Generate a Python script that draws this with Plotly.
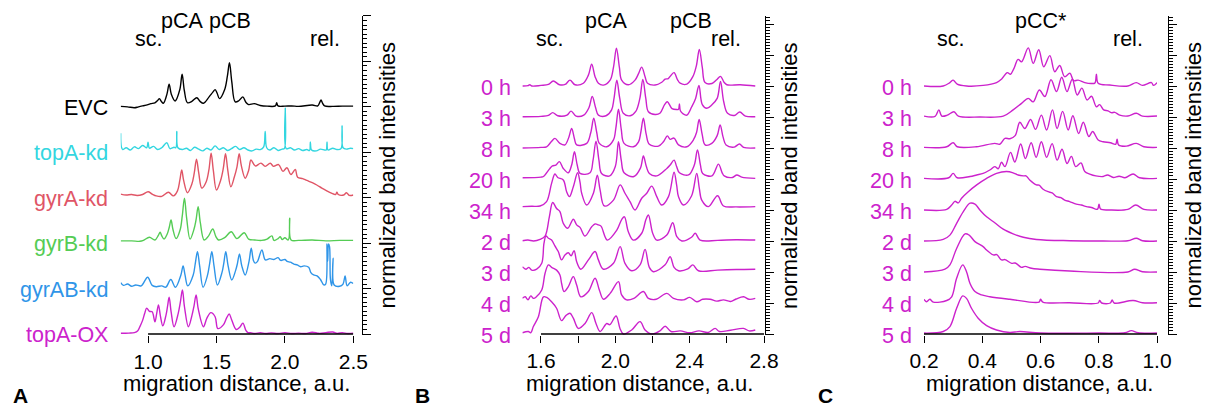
import plotly.graph_objects as go

W, H = 1213, 408

# ---------------- Panel A data (bottom to top) ----------------
A_LABELS = ["topA-OX", "gyrAB-kd", "gyrB-kd", "gyrA-kd", "topA-kd", "EVC"]
A_COLORS = ["#CC22CC", "#2F95E8", "#55CC55", "#E05566", "#33D6E0", "#000000"]
A_XTICKS = [1.0, 1.5, 2.0, 2.5]
A_XTICKTEXT = ["1.0", "1.5", "2.0", "2.5"]

A_EVC = [(0.80, 0.01), (0.85, 0.0), (0.90, -0.02), (0.93, 0.0), (0.96, 0.02), (1.00, 0.05),
         (1.02, 0.07), (1.05, 0.09), (1.07, 0.14), (1.083, 0.18), (1.097, 0.12), (1.112, 0.08),
         (1.138, 0.28), (1.154, 0.50), (1.17, 0.28), (1.198, 0.13), (1.232, 0.38), (1.249, 0.72),
         (1.265, 0.36), (1.288, 0.09), (1.32, 0.12), (1.356, 0.20), (1.38, 0.12), (1.405, 0.08),
         (1.446, 0.22), (1.475, 0.33), (1.49, 0.38), (1.505, 0.3), (1.522, 0.18), (1.56, 0.38),
         (1.58, 0.68), (1.595, 0.97), (1.612, 0.55), (1.637, 0.11), (1.665, 0.14), (1.693, 0.22),
         (1.715, 0.1), (1.735, 0.05), (1.776, 0.07), (1.82, 0.03), (1.87, 0.015), (1.93, 0.02),
         (1.94, 0.09), (1.95, 0.02), (2.0, 0.015), (2.05, 0.02), (2.1, 0.01), (2.2, 0.04),
         (2.24, 0.02), (2.255, 0.1), (2.264, 0.15), (2.275, 0.08), (2.29, 0.02), (2.35, 0.01),
         (2.42, 0.015), (2.5, 0.015)]

A_TOPA_KD = [(0.80, 0.42), (0.805, 0.12), (0.815, 0.06), (0.84, 0.10), (0.87, 0.05), (0.90, 0.12),
             (0.93, 0.08), (0.96, 0.15), (0.99, 0.10), (1.0, 0.22), (1.01, 0.09), (1.04, 0.13),
             (1.07, 0.06), (1.10, 0.10), (1.137, 0.21), (1.16, 0.08), (1.19, 0.11), (1.203, 0.10),
             (1.21, 0.46), (1.218, 0.10), (1.25, 0.06), (1.28, 0.09), (1.31, 0.04), (1.34, 0.11),
             (1.37, 0.07), (1.40, 0.03), (1.43, 0.09), (1.46, 0.05), (1.49, 0.14), (1.52, 0.06),
             (1.55, 0.10), (1.58, 0.04), (1.61, 0.08), (1.64, 0.13), (1.67, 0.06), (1.70, 0.10),
             (1.73, 0.05), (1.76, 0.03), (1.79, 0.07), (1.82, 0.06), (1.845, 0.12), (1.856, 0.46),
             (1.867, 0.10), (1.89, 0.05), (1.92, 0.10), (1.95, 0.04), (1.98, 0.07), (1.996, 0.08),
             (2.003, 0.97), (2.01, 0.08), (2.04, 0.10), (2.07, 0.05), (2.10, 0.08), (2.13, 0.04),
             (2.16, 0.06), (2.18, 0.04), (2.186, 0.23), (2.195, 0.05), (2.23, 0.03), (2.26, 0.07),
             (2.29, 0.05), (2.302, 0.05), (2.308, 0.23), (2.315, 0.05), (2.35, 0.09), (2.38, 0.06),
             (2.41, 0.08), (2.418, 0.58), (2.425, 0.10), (2.45, 0.07), (2.48, 0.09), (2.5, 0.08)]

A_GYRA_KD = [(0.80, 0.08), (0.84, 0.06), (0.88, 0.07), (0.92, 0.05), (0.96, 0.07), (1.0, 0.13),
             (1.03, 0.08), (1.06, 0.04), (1.10, 0.03), (1.149, 0.12), (1.185, 0.04), (1.215, 0.15),
             (1.232, 0.38), (1.246, 0.61), (1.26, 0.38), (1.288, 0.11), (1.32, 0.3), (1.338, 0.55),
             (1.354, 0.85), (1.37, 0.55), (1.393, 0.21), (1.425, 0.35), (1.445, 0.62), (1.461, 0.98),
             (1.477, 0.6), (1.50, 0.17), (1.53, 0.38), (1.55, 0.65), (1.566, 0.97), (1.582, 0.62),
             (1.605, 0.24), (1.63, 0.45), (1.65, 0.68), (1.666, 0.97), (1.682, 0.7), (1.71, 0.43),
             (1.735, 0.6), (1.752, 0.83), (1.783, 0.70), (1.825, 0.76), (1.856, 0.69), (1.893, 0.76),
             (1.917, 0.69), (1.954, 0.73), (1.986, 0.58), (2.015, 0.66), (2.044, 0.51), (2.076, 0.62),
             (2.093, 0.45), (2.13, 0.42), (2.16, 0.38), (2.20, 0.33), (2.233, 0.28), (2.27, 0.21),
             (2.306, 0.15), (2.34, 0.1), (2.37, 0.07), (2.38, 0.12), (2.39, 0.07), (2.43, 0.06),
             (2.45, 0.11), (2.47, 0.05), (2.5, 0.06)]

A_GYRB_KD = [(0.80, 0.05), (0.88, 0.05), (0.94, 0.04), (0.966, 0.06), (1.01, 0.13), (1.05, 0.07),
             (1.075, 0.17), (1.088, 0.24), (1.1, 0.16), (1.117, 0.09), (1.14, 0.2), (1.155, 0.35),
             (1.168, 0.51), (1.182, 0.3), (1.205, 0.1), (1.235, 0.3), (1.25, 0.6), (1.266, 0.99),
             (1.282, 0.55), (1.307, 0.09), (1.335, 0.3), (1.35, 0.5), (1.366, 0.80), (1.382, 0.45),
             (1.41, 0.07), (1.44, 0.15), (1.473, 0.31), (1.495, 0.15), (1.515, 0.07), (1.56, 0.12),
             (1.608, 0.25), (1.649, 0.1), (1.703, 0.23), (1.735, 0.09), (1.78, 0.07), (1.83, 0.06),
             (1.87, 0.09), (1.905, 0.16), (1.92, 0.06), (1.95, 0.1), (1.966, 0.14), (1.98, 0.08),
             (2.0, 0.12), (2.025, 0.07), (2.035, 0.55), (2.045, 0.07), (2.1, 0.06), (2.2, 0.07),
             (2.3, 0.05), (2.4, 0.06), (2.5, 0.06)]

A_GYRAB_KD = [(0.80, 0.13), (0.82, 0.07), (0.85, 0.1), (0.88, 0.05), (0.91, 0.08), (0.95, 0.06),
              (0.997, 0.25), (1.03, 0.07), (1.06, 0.04), (1.10, 0.06), (1.13, 0.03), (1.166, 0.2),
              (1.2, 0.03), (1.24, 0.3), (1.256, 0.50), (1.27, 0.3), (1.29, 0.06), (1.33, 0.3),
              (1.345, 0.55), (1.361, 0.81), (1.377, 0.5), (1.402, 0.03), (1.435, 0.3), (1.45, 0.55),
              (1.466, 0.81), (1.482, 0.5), (1.507, 0.08), (1.54, 0.35), (1.553, 0.55), (1.568, 0.81),
              (1.585, 0.5), (1.612, 0.19), (1.64, 0.4), (1.653, 0.55), (1.668, 0.76), (1.685, 0.5),
              (1.71, 0.30), (1.738, 0.6), (1.754, 0.89), (1.77, 0.62), (1.783, 0.56), (1.80, 0.6),
              (1.832, 0.85), (1.857, 0.63), (1.89, 0.66), (1.92, 0.64), (1.95, 0.68), (1.97, 0.62),
              (2.0, 0.64), (2.017, 0.6), (2.04, 0.58), (2.066, 0.54), (2.09, 0.52), (2.115, 0.48),
              (2.14, 0.5), (2.174, 0.47), (2.19, 0.35), (2.21, 0.30), (2.235, 0.28), (2.26, 0.2),
              (2.284, 0.08), (2.298, 0.1), (2.308, 0.98), (2.313, 0.6), (2.319, 0.98), (2.326, 0.93),
              (2.333, 0.2), (2.343, 0.06), (2.352, 0.67), (2.36, 0.08), (2.40, 0.05), (2.425, 0.1),
              (2.44, 0.28), (2.455, 0.06), (2.48, 0.14), (2.5, 0.11)]

A_TOPA_OX = [(0.80, 0.015), (0.86, 0.02), (0.90, 0.03), (0.925, 0.07), (0.94, 0.16), (0.96, 0.3),
             (0.975, 0.45), (0.99, 0.57), (1.01, 0.5), (1.03, 0.49), (1.05, 0.27), (1.063, 0.45),
             (1.076, 0.64), (1.09, 0.4), (1.108, 0.18), (1.13, 0.4), (1.142, 0.6), (1.154, 0.81),
             (1.168, 0.5), (1.19, 0.16), (1.22, 0.45), (1.236, 0.7), (1.251, 0.97), (1.266, 0.6),
             (1.295, 0.16), (1.32, 0.4), (1.336, 0.62), (1.351, 0.86), (1.367, 0.55), (1.405, 0.16),
             (1.43, 0.35), (1.459, 0.47), (1.49, 0.38), (1.51, 0.12), (1.55, 0.2), (1.575, 0.36),
             (1.593, 0.44), (1.61, 0.32), (1.644, 0.1), (1.67, 0.15), (1.693, 0.24), (1.715, 0.08),
             (1.73, 0.03), (1.75, 0.03), (1.78, 0.01), (1.82, 0.03), (1.86, 0.01), (1.9, 0.025),
             (1.95, 0.01), (2.0, 0.03), (2.05, 0.01), (2.1, 0.02), (2.15, 0.01), (2.2, 0.04),
             (2.25, 0.015), (2.3, 0.03), (2.35, 0.045), (2.38, 0.015), (2.42, 0.03), (2.46, 0.01),
             (2.5, 0.02)]

A_TRACES = [A_TOPA_OX, A_GYRAB_KD, A_GYRB_KD, A_GYRA_KD, A_TOPA_KD, A_EVC]

# ---------------- Panel B data (bottom to top) ----------------
T_LABELS = ["5 d", "4 d", "3 d", "2 d", "34 h", "20 h", "8 h", "3 h", "0 h"]
B_XTICKS = [1.6, 1.8, 2.0, 2.2, 2.4, 2.6, 2.8]
B_XTICKTEXT = ["1.6", "", "2.0", "", "2.4", "", "2.8"]

B_0H = [(1.5, 0.0), (1.53, 0.01), (1.54, 0.04), (1.55, 0.0), (1.6, 0.02), (1.64, 0.05), (1.666, 0.16),
        (1.70, 0.04), (1.73, 0.05), (1.756, 0.19), (1.783, 0.04), (1.828, 0.09), (1.855, 0.35),
        (1.873, 0.7), (1.891, 0.3), (1.909, 0.09), (1.936, 0.03), (1.972, 0.19), (1.99, 0.6),
        (2.006, 1.22), (2.022, 0.6), (2.034, 0.19), (2.07, 0.04), (2.106, 0.19), (2.125, 0.4),
        (2.142, 0.61), (2.16, 0.3), (2.173, 0.09), (2.214, 0.03), (2.25, 0.12), (2.268, 0.22),
        (2.285, 0.24), (2.3, 0.35), (2.316, 0.43), (2.335, 0.2), (2.349, 0.09), (2.385, 0.06),
        (2.417, 0.3), (2.436, 0.65), (2.452, 1.18), (2.468, 0.6), (2.483, 0.11), (2.52, 0.08),
        (2.545, 0.2), (2.566, 0.31), (2.585, 0.12), (2.6, 0.04), (2.672, 0.04), (2.753, 0.0)]

B_3H = [(1.5, 0.01), (1.6, 0.02), (1.64, 0.05), (1.663, 0.14), (1.69, 0.04), (1.74, 0.06), (1.762, 0.19),
        (1.789, 0.03), (1.83, 0.06), (1.858, 0.3), (1.876, 0.66), (1.894, 0.3), (1.909, 0.06),
        (1.95, 0.04), (1.98, 0.23), (1.993, 0.6), (2.008, 1.19), (2.024, 0.6), (2.043, 0.12),
        (2.08, 0.04), (2.11, 0.18), (2.132, 0.6), (2.148, 1.21), (2.164, 0.6), (2.178, 0.17),
        (2.214, 0.08), (2.24, 0.12), (2.265, 0.4), (2.28, 0.49), (2.305, 0.27), (2.33, 0.24),
        (2.34, 0.25), (2.345, 0.42), (2.35, 0.2), (2.365, 0.1), (2.385, 0.06), (2.411, 0.33),
        (2.432, 0.6), (2.45, 1.02), (2.468, 0.4), (2.492, 0.28), (2.519, 0.39), (2.548, 0.6),
        (2.566, 1.15), (2.583, 0.5), (2.604, 0.12), (2.64, 0.05), (2.67, 0.16), (2.70, 0.03),
        (2.753, 0.01)]

B_8H = [(1.5, 0.0), (1.6, 0.02), (1.63, 0.04), (1.655, 0.2), (1.675, 0.31), (1.702, 0.15), (1.729, 0.1),
        (1.75, 0.35), (1.765, 0.63), (1.78, 0.3), (1.792, 0.1), (1.846, 0.15), (1.868, 0.5),
        (1.884, 0.96), (1.9, 0.5), (1.914, 0.15), (1.954, 0.04), (1.99, 0.26), (2.003, 0.65),
        (2.017, 1.25), (2.032, 0.6), (2.047, 0.15), (2.097, 0.04), (2.125, 0.2), (2.137, 0.5),
        (2.151, 0.96), (2.166, 0.45), (2.183, 0.12), (2.232, 0.06), (2.259, 0.2), (2.28, 0.39),
        (2.295, 0.28), (2.316, 0.32), (2.34, 0.1), (2.385, 0.04), (2.42, 0.26), (2.437, 0.5),
        (2.451, 0.92), (2.467, 0.45), (2.483, 0.1), (2.519, 0.15), (2.548, 0.4), (2.564, 0.74),
        (2.58, 0.35), (2.596, 0.1), (2.64, 0.03), (2.668, 0.13), (2.69, 0.02), (2.753, 0.0)]

B_20H = [(1.5, 0.04), (1.6, 0.06), (1.613, 0.08), (1.648, 0.34), (1.662, 0.42), (1.68, 0.45),
         (1.699, 0.56), (1.72, 0.34), (1.747, 0.2), (1.765, 0.45), (1.78, 0.88), (1.795, 0.45),
         (1.81, 0.18), (1.864, 0.2), (1.88, 0.6), (1.896, 1.22), (1.912, 0.6), (1.926, 0.18),
         (1.97, 0.1), (2.0, 0.4), (2.017, 1.2), (2.032, 0.6), (2.047, 0.2), (2.10, 0.08),
         (2.135, 0.35), (2.151, 0.74), (2.167, 0.4), (2.183, 0.18), (2.223, 0.1), (2.277, 0.34),
         (2.295, 0.45), (2.316, 0.61), (2.33, 0.4), (2.345, 0.2), (2.394, 0.13), (2.425, 0.45),
         (2.442, 0.94), (2.458, 0.45), (2.47, 0.18), (2.52, 0.1), (2.555, 0.48), (2.575, 0.2),
         (2.586, 0.1), (2.63, 0.05), (2.654, 0.13), (2.68, 0.06), (2.753, 0.02)]

B_34H = [(1.5, 0.11), (1.55, 0.12), (1.595, 0.13), (1.63, 0.27), (1.657, 0.86), (1.675, 1.16),
         (1.69, 1.05), (1.72, 0.97), (1.738, 0.59), (1.753, 0.43), (1.774, 0.75), (1.797, 1.2),
         (1.81, 0.9), (1.819, 0.54), (1.846, 0.16), (1.882, 0.54), (1.903, 1.12), (1.918, 0.65),
         (1.941, 0.13), (1.99, 0.32), (2.026, 0.81), (2.052, 0.54), (2.079, 0.27), (2.106, 0.0),
         (2.142, 0.38), (2.169, 0.54), (2.196, 0.77), (2.223, 0.43), (2.25, 0.16), (2.286, 0.43),
         (2.316, 1.22), (2.33, 0.8), (2.34, 0.43), (2.367, 0.16), (2.41, 0.45), (2.438, 1.18),
         (2.452, 0.7), (2.465, 0.32), (2.501, 0.11), (2.55, 0.46), (2.582, 0.13), (2.65, 0.1),
         (2.753, 0.11)]

B_2D = [(1.5, 0.01), (1.53, 0.03), (1.56, 0.0), (1.595, 0.05), (1.622, 0.16), (1.645, 0.78),
        (1.663, 1.24), (1.684, 1.05), (1.702, 0.95), (1.72, 0.57), (1.744, 0.41), (1.774, 0.70),
        (1.792, 0.52), (1.81, 0.44), (1.837, 0.16), (1.873, 0.46), (1.891, 0.55), (1.909, 0.52),
        (1.923, 0.48), (1.957, 0.03), (2.008, 0.35), (2.035, 0.7), (2.049, 0.78), (2.07, 0.3),
        (2.097, 0.03), (2.142, 0.25), (2.165, 0.7), (2.178, 0.84), (2.201, 0.25), (2.223, 0.03),
        (2.277, 0.19), (2.309, 0.59), (2.331, 0.14), (2.358, 0.0), (2.41, 0.12), (2.43, 0.25),
        (2.456, 0.03), (2.55, 0.02), (2.65, 0.04), (2.753, 0.03)]

B_3D = [(1.5, 0.17), (1.51, 0.12), (1.52, 0.09), (1.535, 0.15), (1.55, 0.06), (1.577, 0.09),
        (1.604, 0.28), (1.616, 0.92), (1.627, 1.16), (1.64, 1.09), (1.657, 1.03), (1.675, 0.84),
        (1.693, 0.66), (1.711, 0.39), (1.729, 0.55), (1.747, 0.62), (1.762, 0.52), (1.778, 0.69),
        (1.792, 0.33), (1.814, 0.09), (1.855, 0.39), (1.891, 0.66), (1.909, 0.39), (1.936, 0.09),
        (1.99, 0.28), (2.026, 0.82), (2.052, 0.28), (2.088, 0.04), (2.133, 0.23), (2.16, 0.73),
        (2.183, 0.15), (2.205, 0.01), (2.268, 0.23), (2.295, 0.49), (2.316, 0.15), (2.34, 0.04),
        (2.39, 0.1), (2.417, 0.23), (2.447, 0.04), (2.55, 0.06), (2.65, 0.08), (2.753, 0.09)]

B_4D = [(1.5, 0.15), (1.515, 0.2), (1.53, 0.1), (1.545, 0.23), (1.56, 0.15), (1.575, 0.2),
        (1.604, 0.42), (1.622, 0.96), (1.64, 1.23), (1.657, 1.15), (1.684, 1.06), (1.702, 0.9),
        (1.711, 0.63), (1.724, 0.37), (1.747, 0.53), (1.774, 0.85), (1.792, 0.58), (1.814, 0.2),
        (1.855, 0.37), (1.891, 0.8), (1.914, 0.42), (1.936, 0.12), (1.972, 0.31), (2.017, 0.69),
        (2.034, 0.26), (2.061, 0.1), (2.1, 0.15), (2.151, 0.37), (2.178, 0.15), (2.22, 0.12),
        (2.277, 0.31), (2.313, 0.15), (2.367, 0.1), (2.40, 0.18), (2.438, 0.04), (2.47, 0.12),
        (2.51, 0.12), (2.545, 0.06), (2.582, 0.1), (2.62, 0.05), (2.65, 0.13), (2.69, 0.2),
        (2.72, 0.12), (2.753, 0.15)]

B_5D = [(1.5, 0.04), (1.532, 0.08), (1.545, 0.04), (1.559, 0.24), (1.586, 0.56), (1.613, 1.2),
        (1.631, 1.18), (1.657, 1.04), (1.684, 0.83), (1.711, 0.43), (1.735, 0.6), (1.756, 0.67),
        (1.774, 0.51), (1.801, 0.18), (1.837, 0.34), (1.873, 0.69), (1.896, 0.34), (1.918, 0.08),
        (1.954, 0.34), (1.97, 0.3), (2.004, 0.58), (2.025, 0.18), (2.043, 0.0), (2.088, 0.13),
        (2.133, 0.4), (2.16, 0.13), (2.196, 0.0), (2.24, 0.1), (2.268, 0.25), (2.3, 0.08),
        (2.35, 0.1), (2.4, 0.04), (2.45, 0.1), (2.5, 0.05), (2.537, 0.18), (2.56, 0.08),
        (2.62, 0.12), (2.69, 0.18), (2.72, 0.1), (2.753, 0.13)]

B_TRACES = [B_5D, B_4D, B_3D, B_2D, B_34H, B_20H, B_8H, B_3H, B_0H]

# ---------------- Panel C data (bottom to top) ----------------
C_XTICKS = [0.2, 0.4, 0.6, 0.8, 1.0]
C_XTICKTEXT = ["0.2", "0.4", "0.6", "0.8", "1.0"]

C_0H = [(0.2, 0.0), (0.266, 0.0), (0.289, 0.11), (0.3, 0.19), (0.314, 0.06), (0.346, 0.0),
        (0.403, 0.02), (0.449, 0.11), (0.466, 0.22), (0.486, 0.43), (0.497, 0.38), (0.509, 0.57),
        (0.523, 0.86), (0.535, 0.78), (0.558, 1.23), (0.575, 0.73), (0.594, 1.17), (0.611, 0.62),
        (0.632, 0.98), (0.649, 0.46), (0.666, 0.66), (0.683, 0.30), (0.701, 0.41), (0.714, 0.17),
        (0.729, 0.19), (0.752, 0.11), (0.775, 0.08), (0.787, 0.1), (0.792, 0.38), (0.798, 0.09),
        (0.838, 0.03), (0.9, 0.0), (0.929, 0.11), (0.95, 0.02), (0.981, 0.11), (0.988, 0.02),
        (1.0, 0.11)]

C_3H = [(0.2, 0.03), (0.238, 0.02), (0.251, 0.23), (0.261, 0.03), (0.28, 0.06), (0.303, 0.17),
        (0.318, 0.03), (0.392, 0.0), (0.472, 0.03), (0.506, 0.23), (0.535, 0.44), (0.558, 0.6),
        (0.575, 0.49), (0.596, 0.87), (0.615, 0.66), (0.636, 1.2), (0.655, 0.82), (0.673, 1.28),
        (0.691, 0.82), (0.709, 1.22), (0.726, 0.71), (0.742, 0.93), (0.76, 0.55), (0.775, 0.67),
        (0.792, 0.33), (0.803, 0.4), (0.817, 0.23), (0.832, 0.2), (0.843, 0.14), (0.855, 0.15),
        (0.872, 0.06), (0.9, 0.03), (0.929, 0.12), (0.95, 0.03), (1.0, 0.03)]

C_8H = [(0.2, 0.02), (0.278, 0.04), (0.3, 0.17), (0.314, 0.04), (0.38, 0.04), (0.443, 0.15),
        (0.46, 0.12), (0.478, 0.31), (0.495, 0.3), (0.513, 0.4), (0.529, 0.83), (0.546, 0.63),
        (0.566, 0.92), (0.583, 0.6), (0.603, 1.06), (0.621, 0.58), (0.641, 1.23), (0.657, 0.63),
        (0.676, 1.18), (0.695, 0.58), (0.711, 1.04), (0.731, 0.47), (0.747, 0.83), (0.766, 0.37),
        (0.779, 0.53), (0.798, 0.26), (0.815, 0.2), (0.84, 0.17), (0.858, 0.12), (0.863, 0.28),
        (0.868, 0.1), (0.895, 0.06), (0.929, 0.15), (0.955, 0.04), (1.0, 0.02)]

C_20H = [(0.2, 0.02), (0.285, 0.04), (0.3, 0.18), (0.314, 0.04), (0.358, 0.08), (0.381, 0.13),
         (0.403, 0.18), (0.426, 0.29), (0.443, 0.4), (0.455, 0.33), (0.466, 0.54), (0.478, 0.4),
         (0.497, 0.86), (0.512, 0.55), (0.532, 1.13), (0.548, 0.66), (0.568, 1.17), (0.585, 0.7),
         (0.603, 1.2), (0.621, 0.7), (0.64, 1.14), (0.657, 0.61), (0.674, 0.96), (0.691, 0.5),
         (0.706, 0.73), (0.721, 0.4), (0.739, 0.52), (0.752, 0.24), (0.769, 0.16), (0.79, 0.1),
         (0.815, 0.08), (0.83, 0.13), (0.85, 0.05), (0.87, 0.09), (0.89, 0.04), (0.918, 0.16),
         (0.94, 0.04), (1.0, 0.02)]

C_34H = [(0.2, 0.0), (0.278, 0.02), (0.295, 0.16), (0.306, 0.28), (0.318, 0.23), (0.329, 0.38),
         (0.352, 0.59), (0.381, 0.81), (0.415, 1.02), (0.449, 1.18), (0.483, 1.24), (0.506, 1.2),
         (0.523, 1.13), (0.541, 1.1), (0.55, 1.1), (0.563, 0.97), (0.586, 0.81), (0.595, 0.8),
         (0.609, 0.67), (0.626, 0.59), (0.64, 0.55), (0.655, 0.43), (0.67, 0.4), (0.683, 0.32),
         (0.7, 0.27), (0.723, 0.19), (0.74, 0.16), (0.758, 0.11), (0.775, 0.08), (0.792, 0.02),
         (0.797, 0.04), (0.801, 0.19), (0.806, 0.03), (0.838, 0.0), (0.9, 0.02), (0.927, 0.16),
         (0.955, 0.02), (1.0, 0.0)]

C_2D = [(0.2, 0.0), (0.266, 0.05), (0.289, 0.19), (0.312, 0.57), (0.335, 0.95), (0.358, 1.22),
        (0.375, 1.19), (0.392, 1.0), (0.415, 0.78), (0.443, 0.59), (0.472, 0.38), (0.506, 0.23),
        (0.541, 0.12), (0.586, 0.05), (0.7, 0.01), (0.815, 0.0), (0.9, 0.01), (0.929, 0.09),
        (0.95, 0.01), (1.0, 0.0)]

C_3D = [(0.2, 0.0), (0.272, 0.09), (0.289, 0.23), (0.312, 0.76), (0.341, 1.23), (0.355, 1.19),
        (0.375, 0.98), (0.403, 0.82), (0.415, 0.71), (0.438, 0.55), (0.45, 0.56), (0.466, 0.39),
        (0.478, 0.4), (0.501, 0.28), (0.513, 0.29), (0.535, 0.15), (0.547, 0.18), (0.569, 0.12),
        (0.598, 0.09), (0.7, 0.03), (0.9, 0.0), (0.923, 0.09), (0.95, 0.01), (1.0, 0.0)]

C_4D = [(0.2, 0.12), (0.209, 0.04), (0.22, 0.12), (0.232, 0.03), (0.278, 0.08), (0.295, 0.2),
        (0.312, 0.8), (0.333, 1.23), (0.346, 1.01), (0.358, 0.63), (0.375, 0.37), (0.398, 0.26),
        (0.426, 0.2), (0.495, 0.12), (0.595, 0.03), (0.6, 0.12), (0.608, 0.03), (0.7, 0.01),
        (0.798, 0.0), (0.803, 0.08), (0.81, 0.0), (0.84, 0.0), (0.846, 0.1), (0.853, 0.0),
        (0.918, 0.08), (0.95, 0.01), (1.0, 0.01)]

C_5D = [(0.2, 0.03), (0.266, 0.08), (0.289, 0.24), (0.312, 0.83), (0.333, 1.23), (0.346, 1.15),
        (0.363, 0.83), (0.386, 0.51), (0.415, 0.27), (0.449, 0.13), (0.495, 0.05), (0.529, 0.08),
        (0.6, 0.03), (0.8, 0.03), (0.89, 0.04), (0.912, 0.11), (0.935, 0.04), (1.0, 0.03)]

C_TRACES = [C_5D, C_4D, C_3D, C_2D, C_34H, C_20H, C_8H, C_3H, C_0H]

# top markers (x positions in data units of each panel)
TOP_A = [("sc.", 1.0, 38.5), ("pCA", 1.25, 21.0), ("pCB", 1.596, 21.0), ("rel.", 2.29, 38.5)]
TOP_B = [("sc.", 1.646, 38.5), ("pCA", 1.95, 21.0), ("pCB", 2.405, 21.0), ("rel.", 2.598, 38.5)]
TOP_C = [("sc.", 0.291, 38.5), ("pCC*", 0.601, 21.0), ("rel.", 0.90, 38.5)]

MAGENTA = "#CC22CC"
FONT = "Liberation Sans, Arial, Helvetica, sans-serif"


def fx(p):
    return p / W


def fy(p):
    return 1 - p / H


fig = go.Figure()

PANELS = [
    dict(x="x", y="y", xr=(0.8, 2.5), xpx=(120.7, 353.3), ypos=362.0, unit=45.43,
         traces=A_TRACES, colors=A_COLORS, labels=A_LABELS, lab_x=110.5, lab_shift=-1,
         ticks=A_XTICKS, ticktext=A_XTICKTEXT, line=(1.0, 2.5), title_cx=237.0),
    dict(x="x2", y="y2", xr=(1.5, 2.8), xpx=(522.4, 764.0), ypos=764.5, unit=31.0,
         traces=B_TRACES, colors=[MAGENTA] * 9, labels=T_LABELS, lab_x=512.5, lab_shift=-2,
         ticks=B_XTICKS, ticktext=B_XTICKTEXT, line=(1.6, 2.8), title_cx=639.0),
    dict(x="x3", y="y3", xr=(0.2, 1.0), xpx=(924.0, 1157.0), ypos=1168.0, unit=31.0,
         traces=C_TRACES, colors=[MAGENTA] * 9, labels=T_LABELS, lab_x=913.5, lab_shift=-2,
         ticks=C_XTICKS, ticktext=C_XTICKTEXT, line=(0.2, 1.0), title_cx=1039.5),
]

Y0PX, Y1PX = 334.0, 16.0
annotations = []
shapes = []
layout_axes = {}

for i, P in enumerate(PANELS):
    for k, (pts, col) in enumerate(zip(P["traces"], P["colors"])):
        fig.add_trace(go.Scatter(
            x=[p[0] for p in pts], y=[p[1] + k for p in pts],
            mode="lines", line=dict(color=col, width=1.4, shape="spline", smoothing=1.0),
            xaxis=P["x"], yaxis=P["y"], showlegend=False, hoverinfo="skip"))
        annotations.append(dict(
            text=P["labels"][k], x=fx(P["lab_x"]), xref="paper", xanchor="right",
            y=k, yref=P["y"], yanchor="middle", yshift=P["lab_shift"], showarrow=False,
            font=dict(family=FONT, size=21.5, color=col)))
    pad = 0.03
    ytop = (Y0PX - Y1PX) / P["unit"]
    bottom_px = Y0PX + pad * P["unit"]
    xn = "xaxis" if i == 0 else f"xaxis{i + 1}"
    yn = "yaxis" if i == 0 else f"yaxis{i + 1}"
    layout_axes[xn] = dict(
        domain=[fx(P["xpx"][0]), fx(P["xpx"][1])], range=list(P["xr"]), anchor=P["y"],
        showline=False, showgrid=False, zeroline=False, ticks="outside", ticklen=7,
        tickwidth=1.3, tickcolor="black", tickvals=P["ticks"], ticktext=P["ticktext"],
        tickfont=dict(family=FONT, size=21, color="black"), fixedrange=True)
    layout_axes[yn] = dict(
        domain=[fy(bottom_px), fy(Y1PX)], range=[-pad, ytop], anchor="free",
        position=fx(P["ypos"]), side="right", showline=True, linecolor="black", linewidth=1.3,
        showgrid=False, zeroline=False, ticks="outside", ticklen=8, tickwidth=1.2,
        tickcolor="black", dtick=1, tick0=0, showticklabels=False, fixedrange=True,
        minor=dict(ticks="outside", ticklen=4, dtick=0.1, tick0=0, tickcolor="black",
                   tickwidth=1.0, showgrid=False))
    shapes.append(dict(type="line", xref=P["x"], yref="paper", x0=P["line"][0], x1=P["line"][1],
                       y0=fy(Y0PX), y1=fy(Y0PX), line=dict(color="black", width=1.3)))
    annotations.append(dict(text="migration distance, a.u.", x=fx(P["title_cx"]), xref="paper",
                            y=fy(383.5), yref="paper", xanchor="center", yanchor="middle",
                            showarrow=False, font=dict(family=FONT, size=22, color="black")))
    annotations.append(dict(text="normalized band intensities", x=fx(P["ypos"] + 25), xref="paper",
                            y=fy(175.5), yref="paper", xanchor="center", yanchor="middle",
                            textangle=-90, showarrow=False,
                            font=dict(family=FONT, size=22, color="black")))

for xr, tops in zip(["x", "x2", "x3"], [TOP_A, TOP_B, TOP_C]):
    for t, xv, ypx in tops:
        annotations.append(dict(text=t, x=xv, xref=xr, y=fy(ypx), yref="paper",
                                xanchor="center", yanchor="middle", showarrow=False,
                                font=dict(family=FONT, size=21.5, color="black")))

for letter, xp in [("A", 20.5), ("B", 422.5), ("C", 825.0)]:
    annotations.append(dict(text="<b>%s</b>" % letter, x=fx(xp), xref="paper", y=0.0,
                            yref="paper", xanchor="center", yanchor="bottom", showarrow=False,
                            borderpad=0, font=dict(family=FONT, size=21, color="black")))

fig.update_layout(
    width=W, height=H, margin=dict(l=0, r=0, t=0, b=0, autoexpand=False),
    paper_bgcolor="white", plot_bgcolor="white",
    showlegend=False, annotations=annotations, shapes=shapes, **layout_axes)

fig.write_html(
    "out.html", config={"displayModeBar": False},
    post_script="document.documentElement.style.margin='0';document.body.style.margin='0';"
                "document.body.style.padding='0';document.documentElement.style.overflow='hidden';"
                "document.body.style.overflow='hidden';window.scrollTo(0,0);")
